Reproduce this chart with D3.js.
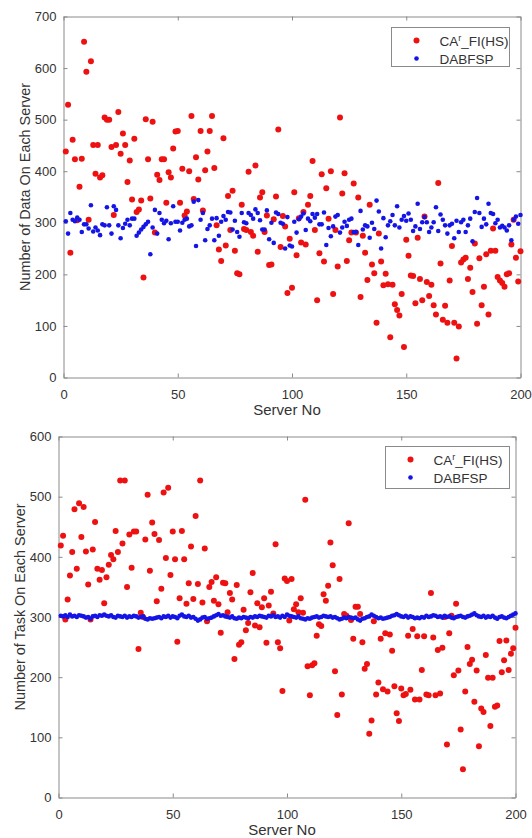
<!DOCTYPE html>
<html>
<head>
<meta charset="utf-8">
<script src="https://cdn.jsdelivr.net/npm/d3@7"></script>
<style>
    body { margin: 0; background: #fff; }
    svg { display: block; font-family: "Liberation Sans", Arial, sans-serif; }
</style>
</head>
<body>
<svg id="chart" width="532" height="838"></svg>
<script>
const serverNo = d3.range(1, 201);

// upper panel: number of data on each server
const dataCA = [
    438, 529, 242, 461, 423, 305, 370, 424, 651, 593,
    306, 613, 451, 395, 451, 388, 392, 504, 500, 500,
    447, 315, 451, 515, 434, 473, 451, 379, 421, 345,
    463, 321, 326, 343, 194, 501, 423, 347, 496, 281,
    393, 383, 423, 423, 339, 398, 388, 444, 477, 478,
    339, 405, 314, 322, 400, 507, 346, 427, 384, 478,
    324, 402, 438, 478, 507, 406, 295, 248, 226, 464,
    256, 352, 286, 362, 246, 202, 200, 335, 288, 286,
    399, 282, 275, 411, 244, 349, 359, 282, 314, 218,
    219, 307, 351, 481, 253, 313, 293, 164, 269, 174,
    359, 237, 309, 262, 321, 258, 335, 352, 420, 286,
    150, 241, 394, 225, 367, 308, 400, 162, 286, 215,
    504, 357, 396, 226, 266, 281, 376, 281, 349, 156,
    275, 242, 189, 335, 219, 202, 106, 279, 225, 179,
    201, 181, 78, 180, 142, 131, 120, 162, 59, 267,
    236, 198, 197, 144, 271, 191, 150, 312, 185, 158,
    180, 140, 122, 377, 221, 112, 139, 106, 188, 255,
    106, 37, 99, 223, 229, 232, 191, 213, 166, 260,
    104, 231, 140, 176, 239, 122, 246, 289, 246, 195,
    188, 183, 176, 200, 202, 258, 306, 232, 186, 245
];
const dataDABFSP = [
    303, 279, 319, 306, 303, 310, 306, 282, 297, 297,
    289, 334, 283, 291, 285, 276, 297, 295, 330, 295,
    279, 332, 325, 295, 270, 290, 298, 306, 295, 308,
    308, 275, 281, 287, 292, 297, 302, 239, 291, 325,
    279, 319, 306, 299, 304, 268, 299, 332, 302, 302,
    285, 300, 306, 308, 293, 295, 341, 255, 344, 306,
    319, 266, 288, 295, 308, 266, 309, 275, 302, 313,
    306, 321, 320, 287, 304, 282, 273, 319, 301, 299,
    319, 315, 308, 326, 319, 305, 287, 287, 324, 268,
    300, 261, 320, 317, 300, 298, 250, 311, 256, 254,
    302, 281, 307, 312, 318, 286, 308, 303, 317, 310,
    317, 297, 297, 320, 257, 290, 274, 293, 312, 315,
    281, 291, 302, 294, 306, 308, 282, 282, 257, 323,
    287, 295, 293, 271, 300, 288, 343, 322, 250, 309,
    272, 295, 303, 315, 295, 332, 291, 306, 313, 304,
    318, 306, 284, 293, 337, 288, 301, 311, 301, 282,
    291, 301, 330, 284, 316, 306, 295, 279, 295, 298,
    270, 304, 282, 301, 306, 282, 295, 308, 264, 321,
    348, 319, 292, 308, 297, 337, 319, 317, 299, 306,
    291, 294, 291, 285, 295, 266, 306, 312, 298, 315
];

// lower panel: number of task on each server
const taskCA = [
    419, 435, 296, 329, 369, 408, 479, 380, 489, 433,
    483, 409, 354, 296, 412, 458, 380, 362, 378, 323,
    366, 387, 403, 396, 443, 408, 527, 422, 527, 350,
    437, 382, 442, 442, 247, 307, 300, 429, 503, 377,
    457, 438, 326, 428, 347, 507, 398, 515, 370, 442,
    396, 259, 331, 443, 396, 322, 356, 417, 330, 468,
    355, 527, 324, 414, 293, 350, 358, 327, 366, 321,
    274, 357, 356, 308, 340, 329, 230, 353, 254, 258,
    312, 278, 290, 341, 373, 286, 323, 283, 316, 331,
    257, 319, 342, 306, 421, 258, 248, 177, 364, 360,
    294, 363, 313, 321, 308, 331, 307, 495, 218, 170,
    220, 223, 269, 288, 285, 338, 327, 352, 424, 386,
    210, 137, 363, 171, 305, 302, 456, 295, 264, 317,
    317, 305, 258, 214, 222, 106, 128, 293, 171, 191,
    264, 180, 273, 176, 271, 244, 185, 140, 127, 181,
    170, 172, 269, 179, 280, 163, 268, 163, 212, 268,
    171, 170, 340, 266, 170, 245, 173, 249, 300, 88,
    273, 302, 203, 322, 211, 113, 47, 176, 250, 222,
    229, 159, 211, 85, 148, 142, 237, 199, 119, 199,
    151, 153, 260, 208, 228, 261, 212, 239, 248, 282
];
const taskDABFSP = [
    302, 301, 303, 300, 304, 301, 302, 300, 303, 302,
    301, 299, 300, 297, 301, 302, 300, 303, 302, 304,
    302, 301, 303, 300, 299, 302, 301, 300, 302, 299,
    301, 300, 302, 301, 299, 300, 301, 297, 296, 298,
    297, 298, 299, 300, 298, 301, 300, 302, 299, 301,
    300, 298, 302, 304, 301, 300, 302, 299, 300, 297,
    294, 296, 299, 300, 297, 298, 299, 301, 303, 305,
    302, 303, 301, 300, 299, 301, 298, 297, 299, 298,
    300, 299, 298, 300, 299, 301, 300, 302, 301, 300,
    299, 302, 301, 303, 300, 301, 299, 302, 300, 304,
    302, 301, 300, 299, 301, 298, 297, 296, 298, 297,
    299, 300, 301, 299, 300, 302, 301, 300, 301, 299,
    300, 298, 296, 297, 299, 298, 300, 299, 298, 299,
    296, 294, 297, 298, 300, 301, 304, 302, 300, 298,
    299, 297, 298, 299, 300, 302, 303, 305, 303, 301,
    300, 302, 299, 301, 300, 298, 299, 298, 300, 299,
    302, 300, 301, 303, 302, 300, 301, 299, 302, 300,
    301, 299, 298, 300, 301, 302, 300, 299, 301, 302,
    304, 306, 303, 301, 300, 302, 299, 301, 300, 302,
    299, 297, 300, 301, 299, 298, 300, 302, 304, 306
];

const xTicks = [0, 50, 100, 150, 200];
const yTicksData = [0, 100, 200, 300, 400, 500, 600, 700];
const yTicksTask = [0, 100, 200, 300, 400, 500, 600];

const COLORS = {
    "CA": "#ee1111",
    "DABFSP": "#1414e6",
}
const AXIS_COLOR = "#8a8a8a";
const TEXT_COLOR = "#333";

let svg = d3.select("#chart");

function drawPanel(svg, area, caVals, dabVals, yTicks, yLabel, legend) {
    let g = svg.append("g");

    let scX = d3.scaleLinear()
        .domain([0, 200])
        .range([area.left, area.right]);
    let scY = d3.scaleLinear()
        .domain([0, yTicks[yTicks.length - 1]])
        .range([area.bottom, area.top]);

    // frame with inward ticks on all four sides
    let axes = [
        ["bottom", d3.axisBottom(scX).tickValues(xTicks), `translate(0, ${area.bottom})`],
        ["top", d3.axisTop(scX).tickValues(xTicks), `translate(0, ${area.top})`],
        ["left", d3.axisLeft(scY).tickValues(yTicks), `translate(${area.left}, 0)`],
        ["right", d3.axisRight(scY).tickValues(yTicks), `translate(${area.right}, 0)`],
    ];
    axes.forEach(([side, axis, tr]) => {
        axis.tickSizeInner(-4).tickSizeOuter(0);
        let ag = g.append("g")
            .attr("transform", tr)
            .call(axis);
        ag.select(".domain").attr("stroke", AXIS_COLOR);
        ag.selectAll(".tick line").attr("stroke", AXIS_COLOR);
        ag.selectAll("text")
            .attr("fill", TEXT_COLOR)
            .style("font-size", "13px")
            .style("font-family", "'Liberation Sans', Arial, sans-serif");
        if (side === "bottom") ag.selectAll("text").attr("y", 12);
        if (side === "left") ag.selectAll("text").attr("x", -7);
        if (side === "top" || side === "right") ag.selectAll("text").remove();
    });

    // points: CA first, DABFSP on top
    g.append("g")
        .selectAll("circle")
        .data(serverNo)
        .enter()
        .append("circle")
        .attr("cx", d => scX(d))
        .attr("cy", (d, i) => scY(caVals[i]))
        .attr("r", 3)
        .style("fill", COLORS["CA"]);

    g.append("g")
        .selectAll("circle")
        .data(serverNo)
        .enter()
        .append("circle")
        .attr("cx", d => scX(d))
        .attr("cy", (d, i) => scY(dabVals[i]))
        .attr("r", 2.3)
        .style("fill", COLORS["DABFSP"]);

    // axis titles
    g.append("text")
        .attr("x", (area.left + area.right) / 2 - 5)
        .attr("y", area.bottom + 37.5)
        .attr("text-anchor", "middle")
        .attr("fill", TEXT_COLOR)
        .style("font-size", "15px")
        .text("Server No");

    g.append("text")
        .attr("transform", `translate(${area.left - 33.5}, ${(area.top + area.bottom) / 2 - 10}) rotate(-90)`)
        .attr("text-anchor", "middle")
        .attr("fill", TEXT_COLOR)
        .style("font-size", "14.4px")
        .text(yLabel);

    // legend
    let lg = g.append("g");
    lg.append("rect")
        .attr("x", legend.x)
        .attr("y", legend.y)
        .attr("width", legend.w)
        .attr("height", legend.h)
        .attr("fill", "#fff")
        .attr("stroke", AXIS_COLOR);

    ["CA", "DABFSP"].forEach((key, i) => {
        let cy = legend.y + 13 + i * 18;
        lg.append("circle")
            .attr("cx", legend.x + 25)
            .attr("cy", cy)
            .attr("r", key === "CA" ? 3 : 2.3)
            .style("fill", COLORS[key]);
        let t = lg.append("text")
            .attr("x", legend.x + 48)
            .attr("y", cy + 5)
            .attr("fill", TEXT_COLOR)
            .style("font-size", "13.5px");
        if (key === "CA") {
            t.append("tspan").text("CA");
            t.append("tspan").attr("dy", -5).style("font-size", "9px").text("r");
            t.append("tspan").attr("dy", 5).text("_FI(HS)");
        } else {
            t.text("DABFSP");
        }
    });
}

drawPanel(svg, {left: 63.5, right: 520.5, top: 16.5, bottom: 377.5},
    dataCA, dataDABFSP, yTicksData, "Number of Data On Each Server",
    {x: 391.5, y: 27.5, w: 118, h: 39});

drawPanel(svg, {left: 58.5, right: 515.5, top: 436.5, bottom: 797.5},
    taskCA, taskDABFSP, yTicksTask, "Number of Task On Each Server",
    {x: 385.5, y: 446.5, w: 124, h: 42});
</script>
</body>
</html>
